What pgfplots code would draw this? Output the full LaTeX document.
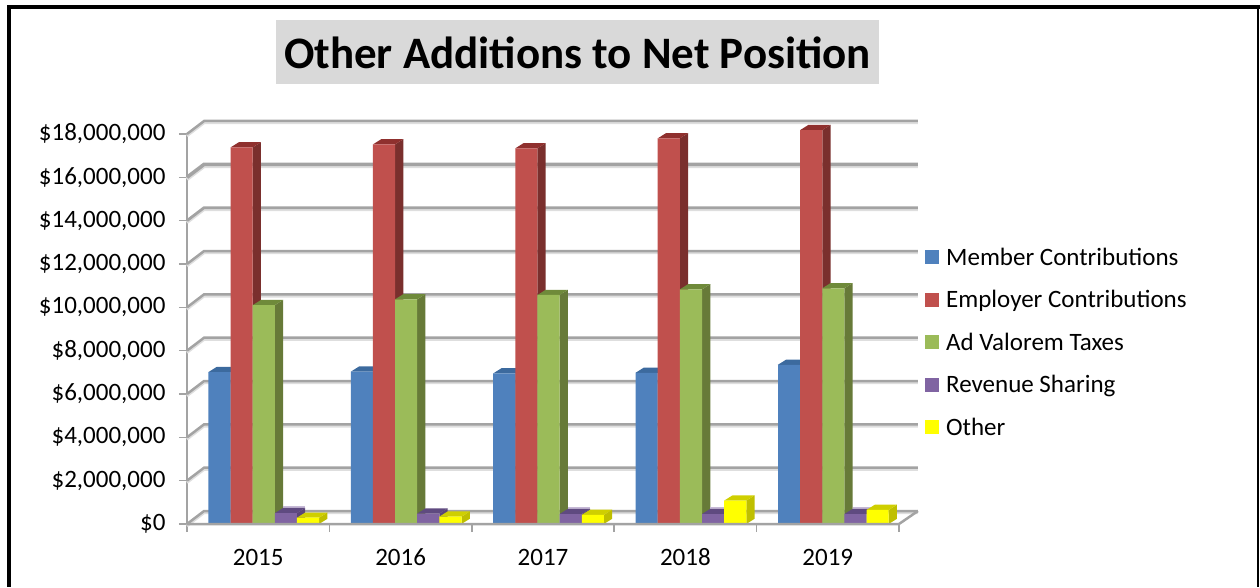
\documentclass[border=0pt]{standalone}
\usepackage{fontspec}
\setmainfont{Carlito}
\usepackage{pgfplots}
\usepackage{pgfplotstable}
\pgfplotsset{compat=1.18}
\definecolor{bluef}{HTML}{4F81BD}\definecolor{blues}{HTML}{3A6291}\definecolor{bluet}{HTML}{3C6A9E}
\definecolor{redf}{HTML}{C0504D}\definecolor{reds}{HTML}{7A2F2D}\definecolor{redt}{HTML}{8F302E}
\definecolor{greenf}{HTML}{9BBB59}\definecolor{greens}{HTML}{677A38}\definecolor{greent}{HTML}{6F8A3A}
\definecolor{purf}{HTML}{8064A2}\definecolor{purs}{HTML}{5B4678}\definecolor{purt}{HTML}{5F4A80}
\definecolor{purg}{HTML}{C6B9D6}
\definecolor{yelf}{HTML}{FFFF00}\definecolor{yels}{HTML}{BFBF00}\definecolor{yelt}{HTML}{CFCF00}
\definecolor{gridc}{HTML}{A3A3A3}\definecolor{grids}{HTML}{DEDEDE}
\pgfplotstableread{
x member employer adval revenue other
0 7.01 17.38 10.10 0.50 0.29
1 7.03 17.52 10.37 0.48 0.34
2 6.95 17.34 10.57 0.46 0.42
3 6.98 17.80 10.83 0.46 1.08
4 7.35 18.18 10.88 0.46 0.65
}\data
\newcommand\faces[4]{%
 \pgfplotsforeachungrouped \i in {0,...,4}{%
  \pgfplotstablegetelem{\i}{#2}\of\data
  \pgfmathsetmacro\ya{\pgfplotsretval}%
  \pgfmathsetmacro\yb{\ya+0.24}%
  \pgfmathsetmacro\xa{\i+#1+0.0777}%
  \pgfmathsetmacro\xb{\xa+0.058}%
  \pgfmathsetmacro\xc{\xa-0.1555}%
  \pgfmathsetmacro\xd{\xc+0.058}%
  \edef\tmp{\noexpand\addplot[forget plot,fill=#3,draw=none] coordinates {(\xa,0)(\xb,0.24)(\xb,\yb)(\xa,\ya)} --cycle;
  \noexpand\addplot[forget plot,fill=#4,draw=none] coordinates {(\xc,\ya)(\xa,\ya)(\xb,\yb)(\xd,\yb)} --cycle;}\tmp
 }}
\newcommand\glow[3]{%
 \pgfplotsforeachungrouped \i in {#3}{%
  \pgfplotstablegetelem{\i}{#2}\of\data
  \pgfmathsetmacro\ya{\pgfplotsretval+0.2}%
  \pgfmathsetmacro\yb{\ya+0.14}%
  \pgfmathsetmacro\xa{\i+#1+0.0777+0.058}%
  \pgfmathsetmacro\xc{\xa-0.1555}%
  \edef\tmp{\noexpand\addplot[forget plot,fill=purg,draw=none] coordinates {(\xc,\ya)(\xa,\ya)(\xa,\yb)(\xc,\yb)} --cycle;}\tmp
 }}
\newcommand\gridln[2]{%
 \pgfmathsetmacro\ga{#1+0.6}\pgfmathsetmacro\gb{#1+0.51}\pgfmathsetmacro\gc{#1-0.09}%
 \edef\tmp{\noexpand\addplot[forget plot,draw=grids,line width=#2] coordinates {(-0.5,\gc)(-0.38,\gb)(4.633,\gb)};
 \noexpand\addplot[forget plot,draw=gridc,line width=#2] coordinates {(-0.5,#1)(-0.38,\ga)(4.633,\ga)};}\tmp}
\pgfplotsset{
 fb/.style={ybar,bar width=0.1555,fill=#1,draw=none,area legend},
 sq/.style={legend image code/.code={\fill[fill=#1,draw=none] (0pt,-5pt) rectangle (14pt,9pt);\path (21pt,0pt);}}
}
\begin{document}
\begin{tikzpicture}[x=1pt,y=1pt]
\useasboundingbox (0,0) rectangle (1260,587);
\fill[black] (7,0) rectangle (11,582);
\fill[black] (7,578) rectangle (1260,582);
\fill[black] (1256.5,0) rectangle (1259,582);
\begin{axis}[
 at={(187pt,63pt)},anchor=south west,
 width=712pt,height=390pt,scale only axis,
 xmin=-0.5,xmax=4.5,ymin=0,ymax=18,
 clip=false,
 axis y line=left,axis x line=bottom,
 axis line style={draw=gridc,line width=2.5pt,-},
 tick align=outside,
 xtick={-0.5,0.5,1.5,2.5,3.5,4.5},
 x tick label as interval,
 xticklabels={2015,2016,2017,2018,2019},
 ytick={0,2,4,6,8,10,12,14,16,18},
 yticklabels={{\$0},{\$2,000,000},{\$4,000,000},{\$6,000,000},{\$8,000,000},{\$10,000,000},{\$12,000,000},{\$14,000,000},{\$16,000,000},{\$18,000,000}},
 major tick length=8pt,
 tick style={draw=gridc,line width=1.5pt},
 tick label style={font=\fontsize{25}{27}\selectfont,text=black},
 yticklabel style={anchor=east,xshift=-10pt},
 xticklabel style={anchor=center,yshift=-25pt},
 title={\textbf{Other Additions to Net Position}},
 title style={at={(axis description cs:0.5485,1.195)},anchor=center,fill=black!15,
   minimum width=603pt,minimum height=64pt,inner sep=0pt,text height=34pt,text depth=0pt,
   font=\fontsize{45}{49}\selectfont,text=black},
 legend style={at={(axis description cs:1.0365,0.461)},anchor=west,draw=none,fill=none,
   inner sep=0pt,row sep=20.5pt,font=\fontsize{25}{27}\selectfont,
   nodes={inner sep=0pt,text height=17pt,text depth=5pt}},
 legend cell align=left,
]
\gridln{0}{2.5pt}
\gridln{2}{2.5pt}
\gridln{4}{2.5pt}
\gridln{6}{2.5pt}
\gridln{8}{2.5pt}
\gridln{10}{2.5pt}
\gridln{12}{2.5pt}
\gridln{14}{2.8pt}
\gridln{16}{3.6pt}
\gridln{18}{2.5pt}
\faces{-0.272}{member}{blues}{bluet}
\addplot[fb=bluef,bar shift=-0.272,sq=bluef] table[x=x,y=member]{\data};
\addlegendentry{Member Contributions}
\faces{-0.1165}{employer}{reds}{redt}
\addplot[fb=redf,bar shift=-0.1165,sq=redf] table[x=x,y=employer]{\data};
\addlegendentry{Employer Contributions}
\faces{0.039}{adval}{greens}{greent}
\addplot[fb=greenf,bar shift=0.039,sq=greenf] table[x=x,y=adval]{\data};
\addlegendentry{Ad Valorem Taxes}
\glow{0.1945}{revenue}{0,2,3,4}
\faces{0.1945}{revenue}{purs}{purt}
\addplot[fb=purf,bar shift=0.1945,sq=purf] table[x=x,y=revenue]{\data};
\addlegendentry{Revenue Sharing}
\faces{0.35}{other}{yels}{yelt}
\addplot[fb=yelf,bar shift=0.35,sq=yelf] table[x=x,y=other]{\data};
\addlegendentry{Other}
\addplot[forget plot,draw=gridc,line width=2.5pt] coordinates {(-0.5,0)(4.5,0)(4.633,0.6)};
\end{axis}
\end{tikzpicture}
\end{document}
